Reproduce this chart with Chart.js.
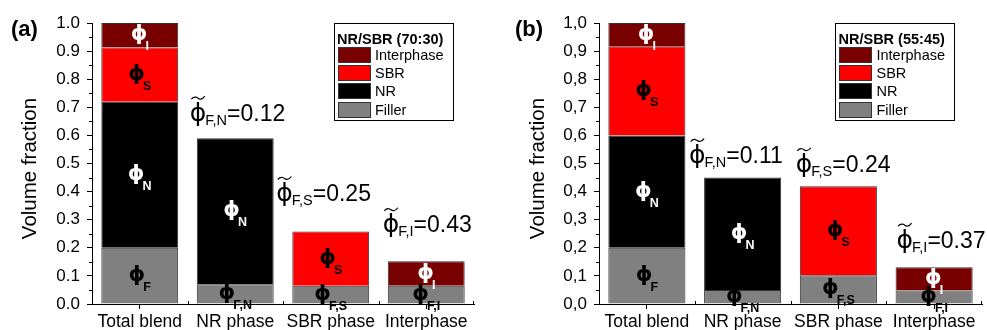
<!DOCTYPE html>
<html>
<head>
<meta charset="utf-8">
<script src="https://cdn.jsdelivr.net/npm/chart.js@4.4.0/dist/chart.umd.min.js"></script>
<style>
  html, body { margin: 0; padding: 0; background: #fff; }
  #wrap { position: relative; width: 987px; height: 330px; overflow: hidden; }
  .panel { position: absolute; top: 0; height: 330px; }
  #pa { left: 0; width: 490px; }
  #pb { left: 495px; width: 492px; }
</style>
</head>
<body>
<div id="wrap">
  <div class="panel" id="pa"><canvas id="ca" width="490" height="330"></canvas></div>
  <div class="panel" id="pb"><canvas id="cb" width="492" height="330"></canvas></div>
</div>
<script>
// ---- data ----
const categories = ['Total blend', 'NR phase', 'SBR phase', 'Interphase'];
const seriesNames = ['Filler', 'NR', 'SBR', 'Interphase'];
const seriesColors = ['#808080', '#000000', '#ff0000', '#780000'];

// NR/SBR (70:30)
const fillerA = [0.200, 0.070, 0.065, 0.065];
const nrA     = [0.520, 0.520, null,  null ];
const sbrA    = [0.193, null,  0.193, null ];
const interA  = [0.087, null,  null,  0.087];

// NR/SBR (55:45)
const fillerB = [0.200, 0.050, 0.102, 0.048];
const nrB     = [0.400, 0.400, null,  null ];
const sbrB    = [0.317, null,  0.317, null ];
const interB  = [0.083, null,  null,  0.083];

const yTickLabelsA = ['0.0','0.1','0.2','0.3','0.4','0.5','0.6','0.7','0.8','0.9','1.0'];
const yTickLabelsB = ['0,0','0,1','0,2','0,3','0,4','0,5','0,6','0,7','0,8','0,9','1,0'];

// subscripts of the volume-fraction symbols inside each segment
const segmentSubs = [
  ['F', 'F,N', 'F,S', 'F,I'],
  ['N', 'N', '', ''],
  ['S', '', 'S', ''],
  ['I', '', '', 'I']
];
const segmentTextColors = ['#000', '#fff', '#000', '#fff'];
const phaseSubs = ['', 'F,N', 'F,S', 'F,I'];

// ---- drawing helpers ----
const FONT = '"Liberation Sans", Arial, Helvetica, sans-serif';
const PHI_FONT = '"DejaVu Sans", sans-serif';
const PHI = '\u03D5';

function drawSegmentSymbol(ctx, cx, cy, sub, color) {
  ctx.font = 'bold 21px ' + PHI_FONT;
  const wp = ctx.measureText(PHI).width;
  ctx.font = 'bold 12.5px ' + FONT;
  const ws = ctx.measureText(sub).width;
  const x0 = cx - (wp - 2 + ws) / 2;
  ctx.fillStyle = color;
  ctx.textAlign = 'left';
  ctx.textBaseline = 'alphabetic';
  ctx.font = 'bold 21px ' + PHI_FONT;
  ctx.fillText(PHI, x0, cy + 6);
  ctx.font = 'bold 12.5px ' + FONT;
  ctx.fillText(sub, x0 + wp - 2, cy + 16);
}

function drawPhaseNote(ctx, x, base, sub, valueText) {
  ctx.fillStyle = '#000';
  ctx.strokeStyle = '#000';
  ctx.textAlign = 'left';
  ctx.textBaseline = 'alphabetic';
  ctx.font = '25px ' + PHI_FONT;
  const wp = ctx.measureText(PHI).width;
  ctx.fillText(PHI, x, base);
  // tilde above the symbol
  const tx = x + 1.5, tw = wp - 3, ty = base - 23;
  ctx.lineWidth = 1.2;
  ctx.beginPath();
  ctx.moveTo(tx, ty + 1.5);
  ctx.bezierCurveTo(tx + tw * 0.25, ty - 2.5, tx + tw * 0.5, ty + 0.5, tx + tw * 0.5, ty + 0.5);
  ctx.bezierCurveTo(tx + tw * 0.5, ty + 0.5, tx + tw * 0.75, ty + 3.5, tx + tw, ty - 1.5);
  ctx.stroke();
  ctx.font = '14.5px ' + FONT;
  ctx.fillText(sub, x + wp - 1, base + 4);
  const ws = ctx.measureText(sub).width;
  ctx.font = '23px ' + FONT;
  ctx.fillText(valueText, x + wp - 1 + ws, base);
}

const decor = {
  id: 'decor',
  afterDraw(chart, args, o) {
    const ctx = chart.ctx;
    const ca = chart.chartArea;
    const xs = chart.scales.x, ys = chart.scales.y;
    ctx.save();

    // minor ticks on the value axis
    ctx.strokeStyle = '#000';
    ctx.lineWidth = 1;
    for (let k = 0; k < 10; k++) {
      const py = Math.round(ys.getPixelForValue(0.05 + 0.1 * k)) + 0.5;
      ctx.beginPath(); ctx.moveTo(ca.left - 3, py); ctx.lineTo(ca.left, py); ctx.stroke();
    }
    // minor ticks between categories
    for (let j = 0; j < categories.length - 1; j++) {
      const px = Math.round((xs.getPixelForValue(j) + xs.getPixelForValue(j + 1)) / 2) + 0.5;
      ctx.beginPath(); ctx.moveTo(px, ca.bottom - 3); ctx.lineTo(px, ca.bottom + 1); ctx.stroke();
    }
    const rx = Math.round(ca.right) - 0.5;
    ctx.beginPath(); ctx.moveTo(rx, ca.bottom - 3); ctx.lineTo(rx, ca.bottom + 1); ctx.stroke();

    // axis title
    ctx.save();
    ctx.translate(ca.left - o.titleGap, (ca.top + ca.bottom) / 2 + 5);
    ctx.rotate(-Math.PI / 2);
    ctx.fillStyle = '#000';
    ctx.textAlign = 'center';
    ctx.textBaseline = 'middle';
    ctx.font = '20.5px ' + FONT;
    ctx.fillText('Volume fraction', 0, 0);
    ctx.restore();

    // panel letter
    ctx.fillStyle = '#000';
    ctx.textAlign = 'left';
    ctx.textBaseline = 'alphabetic';
    ctx.font = 'bold 22px ' + FONT;
    ctx.fillText(o.letter, o.letterX, 36);

    // symbols inside the segments
    chart.data.datasets.forEach((ds, di) => {
      const meta = chart.getDatasetMeta(di);
      meta.data.forEach((el, j) => {
        if (ds.data[j] == null) return;
        const sub = segmentSubs[di][j];
        if (!sub) return;
        drawSegmentSymbol(ctx, el.x, (el.y + el.base) / 2 - 1, sub, segmentTextColors[di]);
      });
    });

    // filler fraction of each phase, written above its bar
    for (let j = 1; j < categories.length; j++) {
      let total = 0, topY = Infinity, left = 0;
      chart.data.datasets.forEach((ds, di) => {
        const v = ds.data[j];
        if (v == null) return;
        total += v;
        const el = chart.getDatasetMeta(di).data[j];
        if (el.y < topY) { topY = el.y; left = el.x - el.width / 2; }
      });
      const filler = chart.data.datasets[0].data[j];
      const ratio = (filler / total).toFixed(2);
      const p = o.notes[j - 1];
      drawPhaseNote(ctx, left + p.dx, topY + p.dy, phaseSubs[j], '=' + ratio);
    }

    // legend box
    const L = { x: ca.left + o.legendDx, y: ca.top, w: 119, h: 97 };
    ctx.strokeStyle = '#000';
    ctx.lineWidth = 1;
    ctx.strokeRect(Math.round(L.x) + 0.5, Math.round(L.y) + 0.5, L.w, L.h);
    ctx.fillStyle = '#000';
    ctx.font = 'bold 14.5px ' + FONT;
    ctx.fillText(o.legendTitle, L.x + 3.5, L.y + 20.5);
    const order = [3, 2, 1, 0];
    order.forEach((di, r) => {
      const sy = Math.round(L.y + 23.5 + r * 18.4);
      const sx = Math.round(L.x + 4);
      ctx.fillStyle = seriesColors[di];
      ctx.fillRect(sx, sy, 33, 16);
      ctx.strokeStyle = '#333';
      ctx.strokeRect(sx + 0.5, sy + 0.5, 32, 15);
      ctx.fillStyle = '#000';
      ctx.font = '14.5px ' + FONT;
      ctx.fillText(seriesNames[di], L.x + 41.5, sy + 12.5);
    });

    ctx.restore();
  }
};

function makeChart(canvasId, series, tickLabels, cfg) {
  const datasets = series.map((data, i) => ({
    label: seriesNames[i],
    data: data,
    backgroundColor: seriesColors[i],
    borderColor: '#333',
    borderWidth: 1,
    borderSkipped: 'start',
    barPercentage: 0.805,
    categoryPercentage: 1.0
  }));
  return new Chart(document.getElementById(canvasId), {
    type: 'bar',
    data: { labels: categories, datasets: datasets },
    options: {
      responsive: false,
      animation: false,
      devicePixelRatio: 1,
      layout: { padding: { top: 23, right: cfg.padRight, bottom: 0, left: 0 } },
      plugins: {
        legend: { display: false },
        tooltip: { enabled: false },
        decor: cfg.decor
      },
      scales: {
        x: {
          stacked: true,
          offset: true,
          afterFit(s) { s.height = 26; },
          grid: { offset: false, drawOnChartArea: false, drawTicks: true, tickLength: 5, color: '#000' },
          border: { display: true, color: '#000', width: 1 },
          ticks: { color: '#000', font: { family: FONT, size: 17.5 }, padding: 3, maxRotation: 0, autoSkip: false }
        },
        y: {
          stacked: true,
          min: 0,
          max: 1,
          afterFit(s) { s.width = cfg.axisWidth; },
          grid: { drawOnChartArea: false, drawTicks: true, tickLength: 5, color: '#000' },
          border: { display: true, color: '#000', width: 1 },
          ticks: {
            stepSize: 0.1,
            color: '#000',
            font: { family: FONT, size: 17 },
            padding: 7,
            callback: (v, i) => tickLabels[i]
          }
        }
      }
    },
    plugins: [decor]
  });
}

makeChart('ca', [fillerA, nrA, sbrA, interA], yTickLabelsA, {
  axisWidth: 92,
  padRight: 16,
  decor: {
    letter: '(a)', letterX: 11, titleGap: 62, legendDx: 241.5,
    legendTitle: 'NR/SBR (70:30)',
    notes: [{ dx: -7, dy: -17.5 }, { dx: -16, dy: -30.5 }, { dx: -5, dy: -29 }]
  }
});

makeChart('cb', [fillerB, nrB, sbrB, interB], yTickLabelsB, {
  axisWidth: 104,
  padRight: 5,
  decor: {
    letter: '(b)', letterX: 20, titleGap: 60.5, legendDx: 236,
    legendTitle: 'NR/SBR (55:45)',
    notes: [{ dx: -15, dy: -14.5 }, { dx: -4, dy: -14 }, { dx: 1, dy: -19.5 }]
  }
});
</script>
</body>
</html>
